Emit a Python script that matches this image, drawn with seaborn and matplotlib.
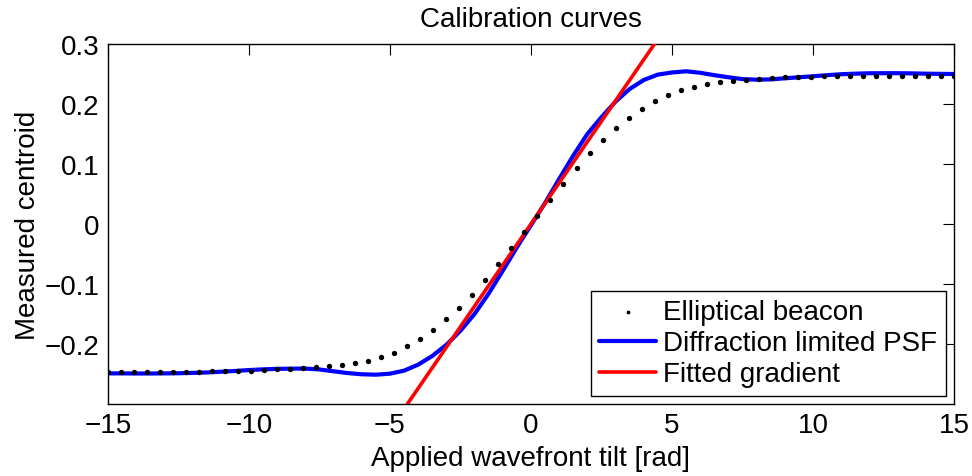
import numpy as np
import matplotlib
matplotlib.use("Agg")
import matplotlib.pyplot as plt
import seaborn as sns

# Elliptical beacon: 66 samples across the tilt range
beacon_x = np.linspace(-15, 15, 66)
beacon_y = [
    -0.2465, -0.2465, -0.2464, -0.2464, -0.2463, -0.2462, -0.2461, -0.2460,
    -0.2458, -0.2455, -0.2450, -0.2445, -0.2435, -0.2425, -0.2410, -0.2395,
    -0.2380, -0.2370, -0.2350, -0.2320, -0.2280, -0.2220, -0.2150, -0.2040,
    -0.1920, -0.1770, -0.1590, -0.1400, -0.1180, -0.0930, -0.0670, -0.0400,
    -0.0130,
    0.0140, 0.0400, 0.0670, 0.0930, 0.1180, 0.1400, 0.1600, 0.1770,
    0.1920, 0.2050, 0.2150, 0.2230, 0.2290, 0.2330, 0.2360, 0.2380,
    0.2400, 0.2420, 0.2435, 0.2445, 0.2450, 0.2455, 0.2460, 0.2462,
    0.2464, 0.2466, 0.2467, 0.2468, 0.2470, 0.2471, 0.2472, 0.2473,
    0.2474,
]

# Diffraction limited PSF
psf_x = np.arange(-15, 15.01, 0.5)
psf_y = [
    -0.2490, -0.2490, -0.2492, -0.2492, -0.2490, -0.2488, -0.2482, -0.2475,
    -0.2463, -0.2450, -0.2435, -0.2423, -0.2415, -0.2411, -0.2410, -0.2425,
    -0.2455, -0.2485, -0.2505, -0.2512, -0.2495, -0.2445, -0.2345, -0.2200,
    -0.2015, -0.1780, -0.1500, -0.1160, -0.0780, -0.0390, -0.0020,
    0.0350, 0.0750, 0.1140, 0.1500, 0.1780, 0.2040, 0.2250, 0.2400,
    0.2490, 0.2525, 0.2545, 0.2520, 0.2480, 0.2445, 0.2415, 0.2405,
    0.2410, 0.2428, 0.2445, 0.2462, 0.2480, 0.2496, 0.2505, 0.2512,
    0.2513, 0.2513, 0.2510, 0.2505, 0.2502, 0.2500,
]

# Fitted gradient (straight line, clipped by the axes)
fit_x = [-5.0, 5.0]
fit_y = [-0.3425, 0.3425]

sns.set_theme(style="white")
plt.rcParams["font.family"] = ["Liberation Sans", "DejaVu Sans"]
plt.rcParams["axes.unicode_minus"] = True
plt.rcParams["text.color"] = "black"
plt.rcParams["axes.labelcolor"] = "black"

FS = 20

fig = plt.figure(figsize=(9.72, 4.77), dpi=100)
ax = fig.add_axes([0.111, 0.151, 0.8705, 0.7547])

sns.lineplot(x=psf_x, y=psf_y, color="#0000ff", linewidth=3.0, ax=ax,
             label="Diffraction limited PSF", zorder=2)
sns.lineplot(x=fit_x, y=fit_y, color="#ff0000", linewidth=2.6, ax=ax,
             label="Fitted gradient", zorder=3)
sns.scatterplot(x=beacon_x, y=beacon_y, color="black", s=15, linewidth=0,
                ax=ax, label="Elliptical beacon", zorder=4)

ax.set_xlim(-15, 15)
ax.set_ylim(-0.3, 0.3)
ax.set_xticks([-15, -10, -5, 0, 5, 10, 15])
ax.set_yticks([-0.2, -0.1, 0, 0.1, 0.2, 0.3])
ax.set_yticklabels(["\u22120.2", "\u22120.1", "0", "0.1", "0.2", "0.3"])
ax.set_xticklabels(["\u221215", "\u221210", "\u22125", "0", "5", "10", "15"])
ax.tick_params(direction="in", length=8, width=0.8, top=True, right=True,
               labelsize=FS, colors="black", pad=6)
for s in ax.spines.values():
    s.set_color("black")
    s.set_linewidth(1.0)

ax.set_title("Calibration curves", fontsize=FS, pad=13, color="black")
ax.set_xlabel("Applied wavefront tilt [rad]", fontsize=FS, labelpad=5)
ax.set_ylabel("Measured centroid", fontsize=FS, labelpad=3)

handles, labels = ax.get_legend_handles_labels()
order = [labels.index(l) for l in
         ["Elliptical beacon", "Diffraction limited PSF", "Fitted gradient"]]
leg = ax.legend([handles[i] for i in order], [labels[i] for i in order],
                loc="lower right", fontsize=FS, frameon=True, fancybox=False,
                edgecolor="black", framealpha=1, borderpad=0.3,
                labelspacing=0.18, handlelength=2.05, handletextpad=0.25,
                borderaxespad=0.3, markerscale=0.7)
leg.get_frame().set_linewidth(1.0)

plt.savefig("out.png", dpi=100)
